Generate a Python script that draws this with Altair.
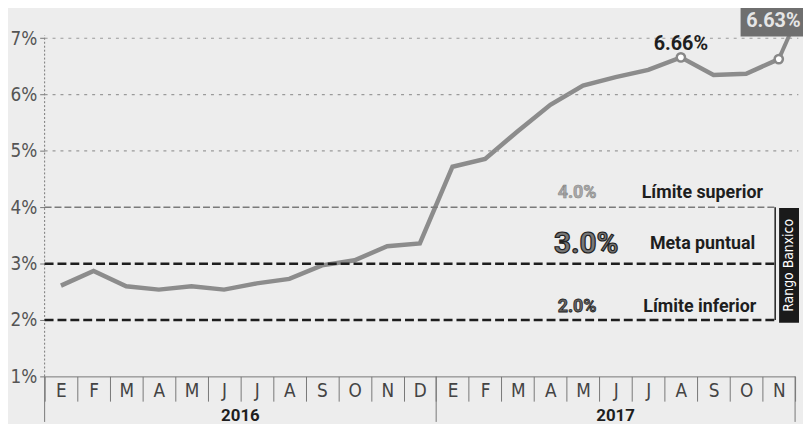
import altair as alt
import pandas as pd

# ---------------- data ----------------
months_2016 = ["E", "F", "M", "A", "M", "J", "J", "A", "S", "O", "N", "D"]
months_2017 = ["E", "F", "M", "A", "M", "J", "J", "A", "S", "O", "N"]
inflation_2016 = [2.61, 2.87, 2.60, 2.54, 2.60, 2.54, 2.65, 2.73, 2.97, 3.06, 3.31, 3.36]
inflation_2017 = [4.72, 4.86, 5.35, 5.82, 6.16, 6.31, 6.44, 6.66, 6.35, 6.37, 6.63]
years = ["2016", "2017"]
y_ticks = [1, 2, 3, 4, 5, 6, 7]
grid_values = [5, 6, 7]
band_values = [4.0, 3.0, 2.0]
band_pct_labels = ["4.0%", "3.0%", "2.0%"]
band_names = ["Límite superior", "Meta puntual", "Límite inferior"]
highlight_labels = ["6.66%", "6.63%"]
range_label = "Rango Banxico"

FONT = "Liberation Sans Narrow, DejaVu Sans Condensed, Roboto, sans-serif"
BOLD = "Roboto, Liberation Sans Narrow, sans-serif"

months = months_2016 + months_2017
values = inflation_2016 + inflation_2017
n = len(months)
df = pd.DataFrame({"x": [i + 0.5 for i in range(n)], "v": values})

xs = alt.Scale(domain=[0, 23], nice=False, zero=False)
ys = alt.Scale(domain=[1, 7.5], nice=False, zero=False)

label_array = "[" + ",".join("'" + m + "'" for m in months) + ",'']"

x_axis = alt.Axis(
    values=list(range(24)), labelExpr=label_array + "[datum.value]",
    tickSize=25, tickColor="#777", tickWidth=1, labelOffset=16.5,
    labelPadding=-11, labelBaseline="middle", labelAlign="center",
    labelFontSize=19, labelColor="#444", labelFont=FONT, domainColor="#777",
    grid=False, title=None, labelAngle=0, labelFlush=False, labelOverlap=False,
)
y_axis = alt.Axis(
    values=y_ticks, labelExpr="datum.value + '%'", tickSize=5, tickColor="#777",
    domain=False, labelFontSize=19, labelColor="#555", labelFont=FONT,
    grid=False, title=None, labelPadding=3,
)


def X(f, **kw):
    return alt.X(f, type="quantitative", scale=xs, axis=x_axis, **kw)


def Y(f, **kw):
    return alt.Y(f, type="quantitative", scale=ys, axis=y_axis, **kw)


# inflation line
line = alt.Chart(df).mark_line(color="#8c8c8c", strokeWidth=4.5).encode(x=X("x"), y=Y("v"))

# left axis line (dotted)
yline = alt.Chart(pd.DataFrame({"x": [0], "a": [1], "b": [7.05]})).mark_rule(
    color="#777", strokeDash=[2, 2], strokeWidth=1
).encode(x=X("x"), y=Y("a"), y2="b")

# light grid lines
grid = alt.Chart(pd.DataFrame({"v": grid_values, "x0": [0] * 3, "x1": [23.1] * 3})).mark_rule(
    color="#9a9a9a", strokeDash=[3, 5], strokeWidth=1.2
).encode(x=X("x0"), x2="x1", y=Y("v"))

lim4 = alt.Chart(pd.DataFrame({"v": [band_values[0]], "x0": [0], "x1": [22.39]})).mark_rule(
    color="#7a7a7a", strokeDash=[7, 3], strokeWidth=1.6
).encode(x=X("x0"), x2="x1", y=Y("v"))

lim23 = alt.Chart(pd.DataFrame({"v": band_values[1:], "x0": [0, 0], "x1": [22.39, 22.39]})).mark_rule(
    color="#1e1e1e", strokeDash=[9, 4], strokeWidth=2.5
).encode(x=X("x0"), x2="x1", y=Y("v"))

# highlighted points
pts = pd.DataFrame({"x": [19.5, 22.5], "v": [inflation_2017[7], inflation_2017[10]]})
points = alt.Chart(pts).mark_point(
    shape="circle", filled=True, fill="white", stroke="#888", strokeWidth=2.5, size=70, opacity=1
).encode(x=X("x"), y=Y("v"))

# leader from last point to label box
leader = alt.Chart(pd.DataFrame({"x": [22.5], "x1": [22.82], "v": [inflation_2017[10]], "v1": [7.05]})).mark_rule(
    color="#888", strokeWidth=4
).encode(x=X("x"), x2="x1", y=Y("v"), y2="v1")

box = alt.Chart(pd.DataFrame({"x": [21.33], "x1": [23.3], "v": [7.03], "v1": [7.62]})).mark_rect(
    color="#6f6f6f"
).encode(x=X("x"), x2="x1", y=Y("v"), y2="v1")

box_text = alt.Chart(pd.DataFrame({"x": [21.5], "v": [7.3], "t": [highlight_labels[1]]})).mark_text(
    align="left", baseline="middle", color="#e6e6e6", fontSize=20, fontWeight="bold", font=BOLD
).encode(x=X("x"), y=Y("v"), text="t:N")

peak_text = alt.Chart(pd.DataFrame({"x": [19.5], "v": [6.9], "t": [highlight_labels[0]]})).mark_text(
    align="center", baseline="middle", color="#1e1e1e", fontSize=20, fontWeight="bold", font=BOLD
).encode(x=X("x"), y=Y("v"), text="t:N")

# band labels
pct = pd.DataFrame({"x": [16.32, 16.6, 16.32], "v": [4.25, 3.34, 2.23], "t": band_pct_labels})
pct4 = alt.Chart(pct.iloc[[0]]).mark_text(
    align="center", baseline="middle", fill="#aaaaaa", stroke="#888", strokeWidth=0.6,
    fontSize=18, fontWeight="bold", font=BOLD
).encode(x=X("x"), y=Y("v"), text="t:N")
pct3 = alt.Chart(pct.iloc[[1]]).mark_text(
    align="center", baseline="middle", fill="#777", stroke="#222", strokeWidth=1.2,
    fontSize=30, fontWeight="bold", font=BOLD
).encode(x=X("x"), y=Y("v"), text="t:N")
pct2 = alt.Chart(pct.iloc[[2]]).mark_text(
    align="center", baseline="middle", fill="#666", stroke="#222", strokeWidth=0.8,
    fontSize=18, fontWeight="bold", font=BOLD
).encode(x=X("x"), y=Y("v"), text="t:N")

names = alt.Chart(pd.DataFrame({"x": [18.3, 18.55, 18.35], "v": [4.25, 3.34, 2.23], "t": band_names})).mark_text(
    align="left", baseline="middle", color="#1e1e1e", fontSize=18, fontWeight="bold", font=BOLD
).encode(x=X("x"), y=Y("v"), text="t:N")

# Rango Banxico bracket
bracket = alt.Chart(pd.DataFrame({"x": [22.39], "a": [4.0], "b": [2.0]})).mark_rule(
    color="#1e1e1e", strokeWidth=1.5
).encode(x=X("x"), y=Y("a"), y2="b")
rbox = alt.Chart(pd.DataFrame({"x": [22.51], "x1": [23.12], "a": [3.99], "b": [1.95]})).mark_rect(
    color="#1a1a1a"
).encode(x=X("x"), x2="x1", y=Y("a"), y2="b")
rtext = alt.Chart(pd.DataFrame({"x": [22.82], "v": [2.97], "t": [range_label]})).mark_text(
    align="center", baseline="middle", angle=270, color="white", fontSize=14, font=FONT
).encode(x=X("x"), y=Y("v"), text="t:N")

# year separators and labels
seps = alt.Chart(pd.DataFrame({"x": [0, 12, 23]})).mark_rule(color="#777", strokeWidth=1).encode(
    x=X("x"), y=alt.value(370), y2=alt.value(416)
)
year_text = alt.Chart(pd.DataFrame({"x": [6, 17.5], "t": years})).mark_text(
    align="center", baseline="alphabetic", color="#1e1e1e", fontSize=17, fontWeight="bold", font=BOLD
).encode(x=X("x"), y=alt.value(415), text="t:N")

chart = alt.layer(
    line, yline, grid, lim4, lim23, seps, leader, points, box, box_text, peak_text,
    pct4, pct3, pct2, names, bracket, rbox, rtext, year_text,
).properties(
    width=758, height=370,
    autosize=alt.AutoSizeParams(type="none"),
    padding={"left": 37, "top": 0, "right": 8, "bottom": 46},
    background="#ededed",
).configure_view(stroke=None)

chart.save("out.html", embed_options={"renderer": "svg", "actions": False})
